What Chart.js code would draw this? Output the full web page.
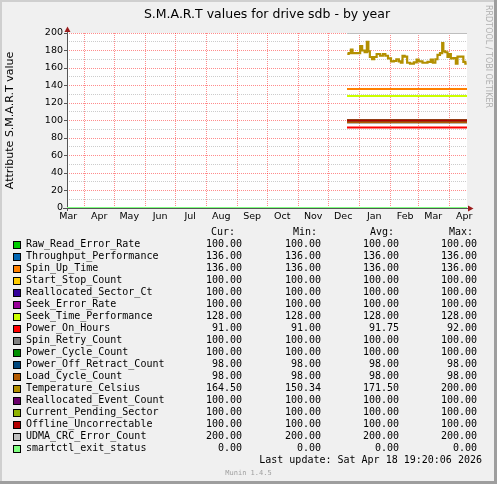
<!DOCTYPE html>
<html><head><meta charset="utf-8">
<script src="https://cdn.jsdelivr.net/npm/chart.js@4.4.1/dist/chart.umd.min.js"></script>
<style>
html,body{margin:0;padding:0;background:#F0F0F0;}
#wrap{position:relative;width:497px;height:484px;background:#F0F0F0;overflow:hidden;}
#c{position:absolute;left:0;top:0;}
.t{position:absolute;font-family:"DejaVu Sans Mono",monospace;font-size:10px;line-height:12px;height:12px;white-space:pre;color:#000;}
.r{text-align:right;}
.sq{position:absolute;width:6px;height:6px;border:1px solid #000;}
.fr{position:absolute;}
#rrd{position:absolute;left:484px;top:5px;writing-mode:vertical-rl;font-family:"DejaVu Sans",sans-serif;font-size:8px;line-height:8px;color:#b0b0b0;white-space:nowrap;}
#munin{position:absolute;left:0;width:497px;top:468px;text-align:center;font-family:"DejaVu Sans Mono",monospace;font-size:7px;line-height:10px;color:#a0a0a0;}
</style></head>
<body>
<div id="wrap">
<canvas id="c" width="497" height="484"></canvas>
<div id="legend"></div>
<div id="rrd">RRDTOOL / TOBI OETIKER</div>
<div id="munin">Munin 1.4.5</div>
<div class="fr" style="left:0;top:0;width:2px;height:484px;background:#CFCFCF"></div>
<div class="fr" style="left:0;top:0;width:497px;height:2px;background:#CFCFCF"></div>
<div class="fr" style="right:0;top:0;width:3px;height:484px;background:#9E9E9E"></div>
<div class="fr" style="left:0;bottom:0;width:497px;height:3px;background:#9E9E9E"></div>
</div>
<script>
// ---- data ----
const titleText = 'S.M.A.R.T values for drive sdb - by year';
const yAxisTitle = 'Attribute S.M.A.R.T value';
const lastUpdate = 'Last update: Sat Apr 18 19:20:06 2026';
// x axis in days relative to last update (Apr 18 2026 19:20); window = 400 days
const xMin = -400, xMax = 0;
const monthStartDays = [-382.8, -352.8, -321.8, -291.8, -260.8, -229.8, -199.8, -168.8, -138.8, -107.8, -76.8, -48.8, -17.8];
const monthLabelDays = [-398.8, -367.8, -337.8, -306.8, -276.8, -245.8, -214.8, -184.8, -153.8, -123.8, -92.8, -61.8, -33.8, -2.8];
const monthLabels = ['Mar','Apr','May','Jun','Jul','Aug','Sep','Oct','Nov','Dec','Jan','Feb','Mar','Apr'];
const yTicks = [0,10,20,30,40,50,60,70,80,90,100,110,120,130,140,150,160,170,180,190,200];

const fieldNames = ['Raw_Read_Error_Rate','Throughput_Performance','Spin_Up_Time','Start_Stop_Count','Reallocated_Sector_Ct','Seek_Error_Rate','Seek_Time_Performance','Power_On_Hours','Spin_Retry_Count','Power_Cycle_Count','Power_Off_Retract_Count','Load_Cycle_Count','Temperature_Celsius','Reallocated_Event_Count','Current_Pending_Sector','Offline_Uncorrectable','UDMA_CRC_Error_Count','smartctl_exit_status'];
const fieldColors = ['#00CC00','#0066B3','#FF8000','#FFCC00','#330099','#990099','#CCFF00','#FF0000','#808080','#008F00','#00487D','#B35A00','#B38F00','#6B006B','#8FB300','#B30000','#BEBEBE','#80FF80'];
const curVals = ['100.00','136.00','136.00','100.00','100.00','100.00','128.00','91.00','100.00','100.00','98.00','98.00','164.50','100.00','100.00','100.00','200.00','0.00'];
const minVals = ['100.00','136.00','136.00','100.00','100.00','100.00','128.00','91.00','100.00','100.00','98.00','98.00','150.34','100.00','100.00','100.00','200.00','0.00'];
const avgVals = ['100.00','136.00','136.00','100.00','100.00','100.00','128.00','91.75','100.00','100.00','98.00','98.00','171.50','100.00','100.00','100.00','200.00','0.00'];
const maxVals = ['100.00','136.00','136.00','100.00','100.00','100.00','128.00','92.00','100.00','100.00','98.00','98.00','200.00','100.00','100.00','100.00','200.00','0.00'];
// plotted level of the flat series (null = special)
const flatLevels = [100,136,136,100,100,100,128,92,100,100,98,98,null,100,100,100,200,0];
const seriesStartDay = -120;      // most series begin here
const exitStatusStartDay = -400;  // smartctl_exit_status covers whole window
// Temperature_Celsius samples
const tempDays = [-119.7,-117,-115.3,-113.7,-107.7,-106,-103.7,-101,-99.3,-98,-96.3,-93.7,-92,-88.7,-85.3,-83,-80.3,-77.7,-74.3,-72,-69.3,-67,-65.3,-63.7,-61,-58.7,-55.3,-51,-49.7,-47,-42,-37,-35.3,-33,-30.3,-28.7,-25.3,-24.3,-23,-20.3,-18.7,-17,-15.3,-12,-10.3,-8.7,-4.3,-3,-0.3];
const tempVals = [176,177,181,177,177,185,180,178,190,179,172.6,170,172.6,176,174,176,174,171,167.5,168,170,167.5,166,174,173,166,165,166.5,169.5,167.5,166,167,169.5,166,170,175,177,188.5,179,178,172.6,176,171,171.4,165,173,173,167,165];

// ---- legend (HTML) ----
const leg = document.getElementById('legend');
function cell(txt, cls, style){ const d=document.createElement('div'); d.className='t '+(cls||''); d.textContent=txt; Object.assign(d.style, style); leg.appendChild(d); }
const colRights = [242, 321, 399, 477];
const hdrRights = [235, 317, 394, 473];
['Cur:','Min:','Avg:','Max:'].forEach((h,i)=>cell(h,'r',{right:(497-hdrRights[i])+'px',top:'226px'}));
fieldNames.forEach((n,i)=>{
  const top = 238.3 + 12*i;
  const sq=document.createElement('div'); sq.className='sq'; sq.style.left='13px'; sq.style.top=(241+12*i)+'px'; sq.style.background=fieldColors[i]; leg.appendChild(sq);
  cell(n,'',{left:'26px',top:top+'px'});
  [curVals,minVals,avgVals,maxVals].forEach((arr,k)=>cell(arr[i],'r',{right:(497-colRights[k])+'px',top:top+'px'}));
});
cell(lastUpdate,'r',{right:(497-482)+'px',top:'454px'});

// ---- chart ----
Chart.defaults.font.family = 'DejaVu Sans';
const datasets = fieldNames.map((n,i)=>{
  let pts;
  const isTemp = flatLevels[i] === null;
  if (isTemp) pts = tempDays.map((d,k)=>({x:d,y:tempVals[k]}));
  else {
    const s = (n==='smartctl_exit_status') ? exitStatusStartDay : seriesStartDay;
    pts = [{x:s,y:flatLevels[i]},{x:xMax,y:flatLevels[i]}];
  }
  return {label:n, data:pts, borderColor:fieldColors[i], backgroundColor:fieldColors[i], borderWidth:2.2, stepped: isTemp ? 'middle' : false, pointRadius:0, tension:0, fill:false, order: fieldNames.length - i, borderCapStyle:'butt', borderJoinStyle:'miter'};
});

const frame = {
  id:'frame',
  beforeDraw(chart){
    const {ctx, chartArea:a} = chart;
    ctx.save(); ctx.fillStyle='#FFFFFF'; ctx.fillRect(a.left,a.top,a.right-a.left,a.bottom-a.top); ctx.restore();
  },
  beforeDatasetsDraw(chart){
    const {ctx, chartArea:a} = chart;
    ctx.save();
    ctx.strokeStyle='#555555'; ctx.lineWidth=1;
    ctx.beginPath();
    ctx.moveTo(a.left-4, a.bottom+0.5); ctx.lineTo(a.right+4, a.bottom+0.5);
    ctx.moveTo(a.left+0.5, a.bottom+3); ctx.lineTo(a.left+0.5, a.top-4);
    ctx.stroke();
    ctx.fillStyle='#9b1c1c';
    ctx.beginPath(); ctx.moveTo(a.left-2.5,a.top-1); ctx.lineTo(a.left+3.5,a.top-1); ctx.lineTo(a.left+0.5,a.top-6.5); ctx.closePath(); ctx.fill();
    ctx.beginPath(); ctx.moveTo(a.right+1,a.bottom-2.5); ctx.lineTo(a.right+1,a.bottom+3.5); ctx.lineTo(a.right+6.5,a.bottom+0.5); ctx.closePath(); ctx.fill();
    ctx.restore();
  }
};

new Chart(document.getElementById('c'), {
  type:'line',
  data:{datasets},
  plugins:[frame],
  options:{
    responsive:false, animation:false, devicePixelRatio:1,
    layout:{padding:{left:0,top:0,right:30,bottom:256}},
    plugins:{
      legend:{display:false}, tooltip:{enabled:false},
      title:{display:true, text:titleText, fullSize:false, color:'#000', font:{size:12.5, weight:'normal', family:'DejaVu Sans', lineHeight:1.2}, padding:{top:7,bottom:11}}
    },
    scales:{
      xl:{type:'linear', position:'bottom', min:xMin, max:xMax, weight:1,
         afterFit(s){ s.height=20; },
         afterBuildTicks(s){ s.ticks = monthLabelDays.map(v=>({value:v})); },
         grid:{display:false, drawTicks:false},
         border:{display:false},
         ticks:{autoSkip:false, maxRotation:0, minRotation:0, padding:3, color:'#000', font:{size:9.5}, callback:(v,i)=>monthLabels[i]}},
      x:{type:'linear', position:'bottom', min:xMin, max:xMax, weight:0,
         afterFit(s){ s.height=0; },
         afterBuildTicks(s){ s.ticks = monthStartDays.map(v=>({value:v})); },
         grid:{color:'rgba(255,0,0,0.45)', lineWidth:1, drawTicks:false},
         border:{display:false, dash:[1,1]},
         ticks:{display:false}},
      y:{type:'linear', position:'left', min:0, max:200,
         afterFit(s){ s.width=67; },
         afterBuildTicks(s){ s.ticks = yTicks.map(v=>({value:v})); },
         grid:{color:c=>(c.tick && c.tick.value%20===0)?'rgba(255,0,0,0.45)':'rgba(143,143,143,0.45)', lineWidth:1, drawTicks:true, tickLength:3, tickColor:c=>(c.tick && c.tick.value%20===0)?'#555555':'rgba(0,0,0,0)'},
         border:{display:false, dash:[1,1]},
         title:{display:true, text:yAxisTitle, color:'#000', font:{size:11}, padding:{top:4,bottom:0}},
         ticks:{autoSkip:false, padding:1, color:'#000', font:{size:9.5}, callback:v=>(v%20===0)?String(v):''}}
    }
  }
});
</script>
</body></html>
